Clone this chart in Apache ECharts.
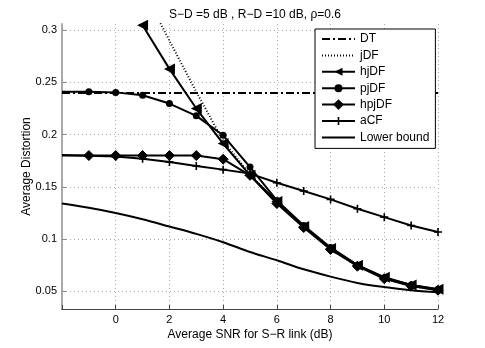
<!DOCTYPE html>
<html>
<head>
<meta charset="UTF-8">
<title>Average Distortion</title>
<script src="https://cdn.jsdelivr.net/npm/echarts@6/dist/echarts.min.js"></script>
<style>
  html, body {margin:0; padding:0; background:#fff;}
  #chart {width:485px; height:348px;}
</style>
</head>
<body>
<div id="chart"></div>
<script>
// values
const snr = [-2, -1, 0, 1, 2, 3, 4, 5, 6, 7, 8, 9, 10, 11, 12];
const dtX = [-2, 12];
const dtY = [0.24, 0.24];
const jdfX = [1, 2, 3, 4, 5, 6, 7, 8, 9, 10, 11, 12];
const jdfY = [0.34, 0.29, 0.241, 0.194, 0.162, 0.135, 0.112, 0.091, 0.074, 0.063, 0.055, 0.051];
const hjdfX = [1, 2, 3, 4, 5, 6, 7, 8, 9, 10, 11, 12];
const hjdfY = [0.3048, 0.263, 0.225, 0.1915, 0.161, 0.136, 0.112, 0.091, 0.075, 0.0635, 0.056, 0.052];
const pjdfY = [0.241, 0.241, 0.2405, 0.2377, 0.2298, 0.218, 0.1994, 0.169, 0.137, 0.113, 0.092, 0.075, 0.063, 0.056, 0.052];
const hpjdfY = [0.18, 0.18, 0.18, 0.18, 0.18, 0.18, 0.1765, 0.161, 0.134, 0.111, 0.09, 0.074, 0.062, 0.055, 0.051];
const acfY = [0.1805, 0.1798, 0.179, 0.177, 0.1739, 0.170, 0.1665, 0.1627, 0.154, 0.146, 0.138, 0.129, 0.121, 0.113, 0.1068];
const lowerY = [0.134, 0.130, 0.125, 0.119, 0.112, 0.105, 0.097, 0.0876, 0.0797, 0.071, 0.064, 0.058, 0.054, 0.051, 0.049];
const yTicks = [0.05, 0.1, 0.15, 0.2, 0.25, 0.3];
const legendNames = ['DT', 'jDF', 'hjDF', 'pjDF', 'hpjDF', 'aCF', 'Lower bound'];
const plainLines = ['DT', 'jDF', 'Lower bound'];

const FONT = 'Liberation Sans';
const pairs = (xs, ys) => xs.map((x, i) => [x, ys[i]]);
// no marker on the point sitting on the left axis
const hideEdge = size => (v => v[0] <= -2 ? 0 : size);

const plusPath = 'path://M4,0H6V4H10V6H6V10H4V6H0V4H4Z';

function lineSeries(name, data, extra) {
  return Object.assign({
    name: name,
    type: 'line',
    data: data,
    symbol: 'none',
    lineStyle: {color: '#000', width: 2},
    itemStyle: {color: '#000'},
    animation: false
  }, extra);
}

const chart = echarts.init(document.getElementById('chart'));
chart.setOption({
  animation: false,
  title: {
    text: 'S\u2212D =5 dB , R\u2212D =10 dB, \u03c1=0.6',
    left: 250, top: 4, textAlign: 'center',
    textStyle: {fontFamily: FONT, fontSize: 12, fontWeight: 'normal', color: '#000'}
  },
  grid: {left: 62, right: 47, top: 24, bottom: 39},
  legend: {
    orient: 'vertical',
    left: 315, top: 29,
    backgroundColor: '#fff',
    borderColor: '#000', borderWidth: 1,
    padding: [3, 6, 4, 6],
    itemWidth: 33, itemHeight: 10, itemGap: 2.4,
    textStyle: {fontFamily: FONT, fontSize: 12, color: '#000', lineHeight: 14},
    data: legendNames.map(n => plainLines.includes(n)
      ? {name: n, itemStyle: {color: 'transparent', borderWidth: 0}}
      : {name: n})
  },
  xAxis: {
    type: 'value', min: -2, max: 12, interval: 2,
    name: 'Average SNR for S\u2212R link (dB)',
    nameLocation: 'middle', nameGap: 20, nameMoveOverlap: false,
    nameTextStyle: {fontFamily: FONT, fontSize: 12, color: '#000'},
    axisLine: {onZero: false, lineStyle: {color: '#444', width: 1}},
    axisTick: {inside: true, length: 4, lineStyle: {color: '#444'}},
    axisLabel: {
      fontFamily: FONT, fontSize: 11, color: '#000', margin: 5,
      formatter: v => v === -2 ? '' : String(v)
    },
    splitLine: {show: true, lineStyle: {color: '#aaa', type: [1, 3], width: 1}}
  },
  yAxis: {
    type: 'value', min: 0.033, max: 0.306,
    name: 'Average Distortion',
    nameLocation: 'middle', nameGap: 29, nameMoveOverlap: false,
    nameTextStyle: {fontFamily: FONT, fontSize: 12, color: '#000'},
    axisLine: {show: true, onZero: false, lineStyle: {color: '#aaa', width: 2}},
    axisTick: {show: true, inside: true, length: 4, customValues: yTicks, lineStyle: {color: '#888'}},
    axisLabel: {fontFamily: FONT, fontSize: 11, color: '#000', margin: 5, customValues: yTicks},
    splitLine: {show: true, lineStyle: {color: '#aaa', type: [1, 3], width: 1}}
  },
  series: [
    lineSeries('DT', pairs(dtX, dtY), {lineStyle: {color: '#000', width: 2, type: [8, 3, 2, 3]}}),
    lineSeries('jDF', pairs(jdfX, jdfY), {lineStyle: {color: '#000', width: 2, type: [1, 2]}}),
    lineSeries('Lower bound', pairs(snr, lowerY), {smooth: 0.3}),
    lineSeries('aCF', pairs(snr, acfY), {symbol: plusPath, symbolSize: hideEdge(8)}),
    lineSeries('hpjDF', pairs(snr, hpjdfY), {
      symbol: 'diamond', symbolSize: hideEdge(10),
      itemStyle: {color: '#000', borderColor: '#000', borderWidth: 1}
    }),
    lineSeries('pjDF', pairs(snr, pjdfY), {symbol: 'circle', symbolSize: hideEdge(7)}),
    lineSeries('hjDF', pairs(hjdfX, hjdfY), {symbol: 'triangle', symbolRotate: 90, symbolSize: 11})
  ]
});
</script>
</body>
</html>
